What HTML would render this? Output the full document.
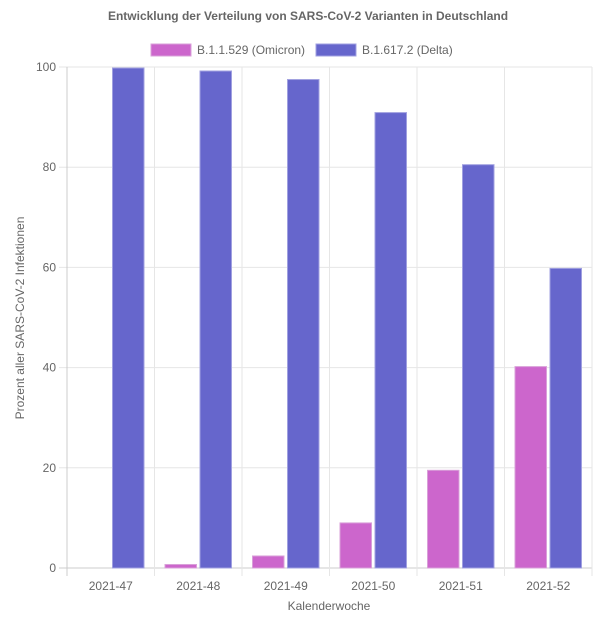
<!DOCTYPE html>
<html><head><meta charset="utf-8"><style>
body{margin:0;background:#fff;}
svg{display:block;font-family:"Liberation Sans",Arial,sans-serif;}
</style></head><body>
<svg id="chart" width="611" height="636">
<text x="308" y="20" text-anchor="middle" font-size="12" font-weight="bold" fill="#666">Entwicklung der Verteilung von SARS-CoV-2 Varianten in Deutschland</text>
<g>
<g><rect x="151" y="44" width="40" height="12" fill="#cc66cc" stroke="#d9a0d9"/><text x="197" y="54" font-size="12" fill="#666">B.1.1.529 (Omicron)</text></g>
<g><rect x="316" y="44" width="40" height="12" fill="#6666cc" stroke="#a0a0e0"/><text x="362" y="54" font-size="12" fill="#666">B.1.617.2 (Delta)</text></g>
</g>
<text transform="translate(24,318) rotate(-90)" text-anchor="middle" font-size="12" fill="#666">Prozent aller SARS-CoV-2 Infektionen</text>
<text x="329" y="610" text-anchor="middle" font-size="12" fill="#666">Kalenderwoche</text>
<g id="grid"></g><g id="bars"></g><g id="labels"></g>
</svg>
<script>
const categories=["2021-47","2021-48","2021-49","2021-50","2021-51","2021-52"];
const omicron=[0,0.7,2.4,9.0,19.5,40.2];
const delta=[99.8,99.2,97.5,90.9,80.5,59.8];
const yTicks=[0,20,40,60,80,100];
const L=67,R=592,T=67,B=568;
const NS="http://www.w3.org/2000/svg";
const cw=(R-L)/categories.length;
function y(v){return B-(v/100)*(B-T);}
function xc(i){return L+cw*(i+0.5);}
function mk(tag,attrs,parent){const e=document.createElementNS(NS,tag);for(const k in attrs)e.setAttribute(k,attrs[k]);document.getElementById(parent).appendChild(e);return e;}
yTicks.forEach(t=>{
  const g=mk("line",{x1:L-8,x2:R,y1:y(t),y2:y(t),stroke:t===0?"#ccc":"#e6e6e6"},"grid");
  
  
  const tx=mk("text",{x:L-11,y:y(t)+4,"text-anchor":"end","font-size":12,fill:"#666"},"labels");
  tx.textContent=t;
  
  
});
for(let i=0;i<=categories.length;i++){
  const x=L+cw*i;
  const g=mk("line",{x1:x,x2:x,y1:T,y2:B+8,stroke:i===0?"#ccc":"#e6e6e6"},"grid");
  
  
}
categories.forEach((c,i)=>{
  const tx=mk("text",{x:xc(i),y:590,"text-anchor":"middle","font-size":12,fill:"#666"},"labels");
  tx.textContent=c;
  
  
  const slot=cw*0.8/2, bw=slot*0.9, off=(slot-bw)/2;
  const x0=xc(i)-slot+off;
  const a=mk("rect",{x:x0,y:y(omicron[i]),width:bw,height:B-y(omicron[i]),fill:"#cc66cc",stroke:"#d9a0d9"},"bars");
  
  
  const d=mk("rect",{x:xc(i)+off,y:y(delta[i]),width:bw,height:B-y(delta[i]),fill:"#6666cc",stroke:"#a0a0e0"},"bars");
  
  
});
</script>
</body></html>
